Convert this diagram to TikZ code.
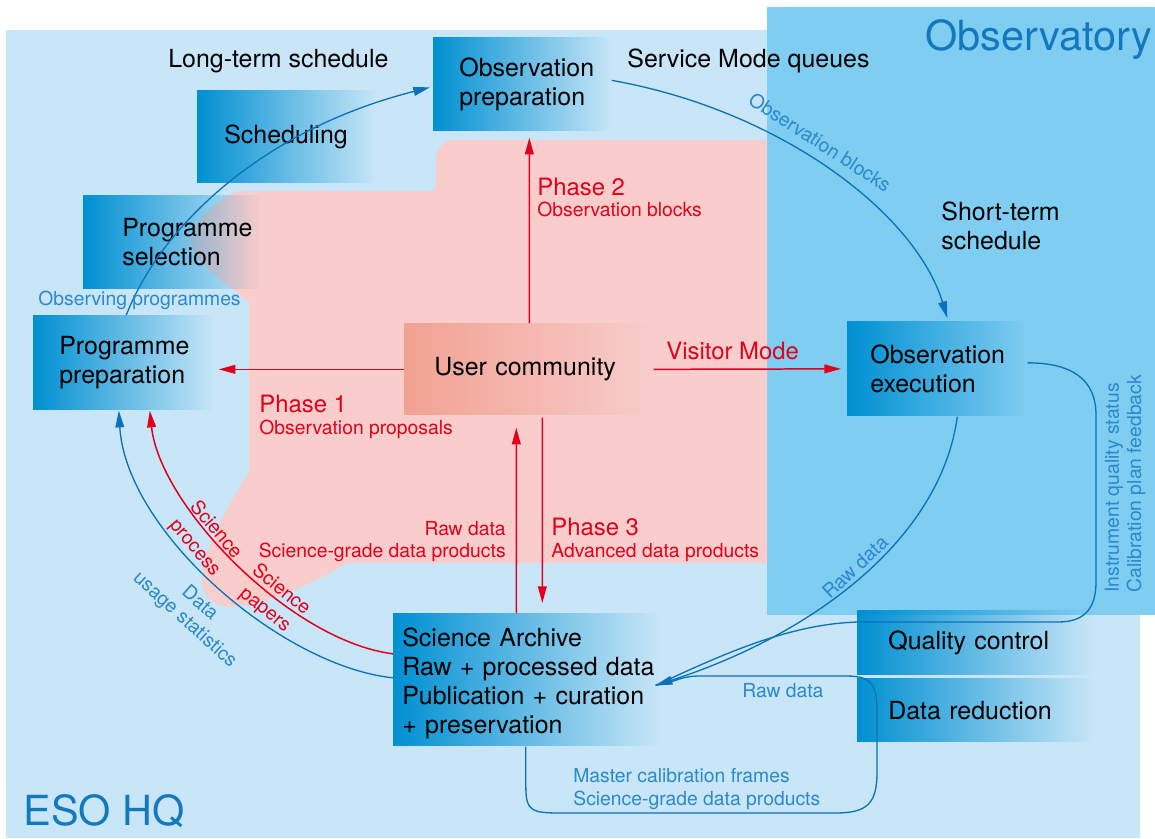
\documentclass[tikz,border=0pt]{standalone}
\usepackage{fontspec}
\setmainfont{TeX Gyre Heros}
\usetikzlibrary{arrows.meta,fadings}

\definecolor{hqblue}{HTML}{C8E6F8}
\definecolor{obsblue}{HTML}{80CDF2}
\definecolor{stageblue}{HTML}{0090D2}
\definecolor{userpink}{HTML}{F8CDCC}
\definecolor{usersalmon}{HTML}{F2A292}
\definecolor{flowred}{HTML}{E2001A}
\definecolor{flowblue}{HTML}{0A72BA}
\definecolor{labelblue}{HTML}{2A88CC}
\definecolor{titleblue}{HTML}{1478BE}

\tikzfading[name=boxfade, left color=transparent!0, right color=transparent!100]

\begin{document}
\begin{tikzpicture}[
    x=0.02cm, y=-0.02cm,
    every node/.style={font=\fontsize{14.2}{16.5}\selectfont, inner sep=0pt},
    stage/.style n args={3}{rectangle, fill=stageblue, path fading=boxfade, anchor=north west, align=left,
        minimum width=#1, text width=#1, minimum height=#2, execute at begin node={\leftskip=#3}},
    smallblue/.style={font=\fontsize{11}{12.6}\selectfont, text=labelblue},
    smallred/.style={font=\fontsize{11}{12.6}\selectfont, text=flowred},
    phase/.style={font=\fontsize{13.6}{16}\selectfont, text=flowred},
    region/.style={font=\fontsize{23.6}{28}\selectfont, text=titleblue},
    redarrow/.style={->, >={Triangle[length=9.5pt,width=5pt]}, draw=flowred, line width=0.85pt},
    bluearrow/.style={->, >={Triangle[length=9.5pt,width=5pt]}, draw=flowblue, line width=0.75pt},
    blueline/.style={draw=flowblue, line width=0.75pt}
]
\useasboundingbox (0,0) rectangle (1155,838);

% REGIONES
\fill[hqblue] (6,30) rectangle (1140,838);
\fill[obsblue] (767,7) rectangle (1155,615);
\fill[userpink] (767,140) -- (456,140) .. controls (444,140) and (436,148) .. (436,160)
  -- (436,184) .. controls (436,189) and (434,191) .. (429,191) -- (237,191)
  .. controls (206,208) and (191,226) .. (191,242) .. controls (191,262) and (228,284) .. (249,302)
  -- (249,473) .. controls (226,508) and (202,552) .. (202,580)
  .. controls (202,600) and (220,610) .. (242,606) .. controls (282,598) and (322,578) .. (347,563)
  -- (767,563) -- cycle;

% ETAPAS
\node[stage={3.56cm}{1.88cm}{0.52cm}] (obspre) at (433,37) {Observation\\preparation};
\node[stage={3.56cm}{1.86cm}{0.54cm}] (sched) at (197,90) {Scheduling};
\node[stage={3.54cm}{1.88cm}{0.78cm}] (prgsel) at (83,195) {Programme\\selection};
\node[stage={3.62cm}{1.90cm}{0.52cm}] (prgprep) at (33,315) {Programme\\preparation};
\node[stage={4.92cm}{1.84cm}{0.60cm}, fill=usersalmon] (usrcom) at (404,323) {User community};
\node[stage={3.56cm}{1.90cm}{0.46cm}] (obsexe) at (847,321) {Observation\\execution};
\node[stage={5.30cm}{2.66cm}{0.18cm}, text depth=1.69cm] (archive) at (393,613) {Science Archive\\Raw + processed data\\Publication + curation\\+ preservation};
\node[stage={4.70cm}{1.30cm}{0.62cm}] (qc) at (857,610) {Quality control};
\node[stage={4.70cm}{1.28cm}{0.62cm}] (dr) at (857,678) {Data reduction};

% FLUJOS DE LA COMUNIDAD
\draw[redarrow] (usrcom.west) -- ([shift={(4,0)}]usrcom.west -| prgprep.east);
\draw[redarrow] ([shift={(2,0)}]usrcom.north) -- ([shift={(7,6)}]obspre.south);
\draw[redarrow] ([shift={(3,0)}]usrcom.east) -- ([shift={(-6,0)}]obsexe.west);
\draw[redarrow] ([shift={(-9.5,0)}]archive.north) -- ([shift={(-11,12)}]usrcom.south);
\draw[redarrow] ([shift={(15,2)}]usrcom.south) -- ([shift={(16.5,-10)}]archive.north);
\draw[redarrow] ([shift={(0,-26)}]archive.west) .. controls +(-103,-13) and +(10,95) .. ([shift={(26,0)}]prgprep.south);

% FLUJOS DE DATOS
\draw[bluearrow] ([shift={(0,-2)}]archive.west) .. controls +(-113,-12) and +(7,120) .. ([shift={(-5,0)}]prgprep.south);
\draw[bluearrow] ([shift={(2.5,0)}]prgprep.north) .. controls +(34,-87) and +(-170,43) .. ([shift={(-3,3)}]obspre.west);
\draw[bluearrow] ([shift={(0,-4)}]obspre.east) .. controls +(169,30) and +(-32,-105) .. ([shift={(11,-3)}]obsexe.north);
\draw[bluearrow] ([shift={(21,0)}]obsexe.south) .. controls +(-17,124) and +(155,-50) .. ([shift={(-3,5.5)}]archive.east);
\draw[blueline] ([shift={(2,-6)}]obsexe.east) .. controls +(45,0) and +(0,-35) .. (1096,415) -- (1096,582)
  .. controls +(0,28) and +(25,0) .. (1058,622) -- (858,622)
  .. controls +(-70,2) and +(65,-30) .. ([shift={(-3,5.5)}]archive.east);
\draw[blueline] (archive.south) -- ++(0,40) .. controls +(0,25) and +(-30,0) .. (562,813) -- (835,813)
  .. controls +(32,0) and +(0,32) .. (877,772) -- (877,716)
  .. controls +(0,-30) and +(28,0) .. (846,676) -- (700,676)
  .. controls +(-20,0) and +(20,-3) .. ([shift={(-3,5.5)}]archive.east);

% ETIQUETAS
\node[region, anchor=base west] (obstitle) at (925,51) {Observatory};
\node[region, anchor=base west] (hqtitle) at (23,825) {ESO HQ};
\node[anchor=base west] (ltsched) at (168,68) {Long-term schedule};
\node[anchor=base west] (smqueue) at (627,68) {Service Mode queues};
\node[anchor=base west, align=left] (stsched) at (941,249) {Short-term\\schedule};
\node[smallblue, anchor=base west] (obsprog) at (38,305) {Observing programmes};
\node[smallblue, rotate=-33] (obsblk) at (820,142) {Observation blocks};
\node[phase, anchor=base west] (ph1) at (259,412) {Phase 1};
\node[smallred, anchor=base west] (ph1txt) at (259,434) {Observation proposals};
\node[phase, anchor=base west] (ph2) at (537,195) {Phase 2};
\node[smallred, anchor=base west] (ph2txt) at (537,216) {Observation blocks};
\node[phase, anchor=base west] (ph3) at (551,535) {Phase 3};
\node[smallred, anchor=base west] (ph3txt) at (551,557) {Advanced data products};
\node[smallred, anchor=base east] (rawup) at (506,535) {Raw data};
\node[smallred, anchor=base east] (sciup) at (506,557) {Science-grade data products};
\node[phase, anchor=base west] (visit) at (666,359) {Visitor Mode};
\node[smallred, rotate=-49.5, align=center] (sciproc) at (205,539) {Science\\[3pt]process};
\node[smallred, rotate=-39, align=center] (scipap) at (273,600) {Science\\[2pt]papers};
\node[smallblue, rotate=-42, align=center] (usage) at (192,612) {Data\\usage statistics};
\node[smallblue, rotate=43] (rawexe) at (855,567) {Raw data};
\node[smallblue, rotate=90, anchor=west, align=left] (iqstat) at (1125,593) {Instrument quality status\\Calibration plan feedback};
\node[smallblue, anchor=base west] (rawdr) at (742,697) {Raw data};
\node[smallblue, anchor=base west, align=left] (mcal) at (573,805) {Master calibration frames\\Science-grade data products};

\end{tikzpicture}
\end{document}
